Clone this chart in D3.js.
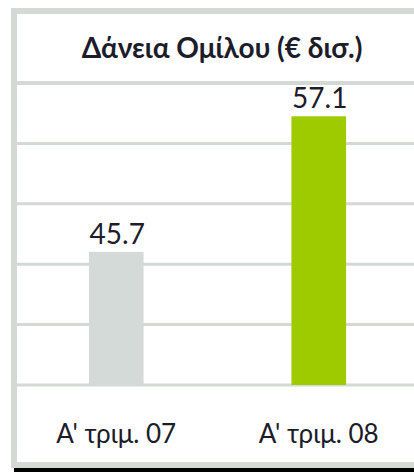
<!DOCTYPE html>
<html lang="el">
<head>
  <meta charset="UTF-8">
  <title>Δάνεια Ομίλου</title>
  <script src="https://d3js.org/d3.v7.min.js"></script>
  <style>
    body { margin: 0; background: white; }
    text { font-family: Lato, 'Open Sans', sans-serif; fill: #1c1c2a; }
  </style>
</head>
<body>
  <svg width="414" height="472"></svg>

  <script>
    // Data
    const categories = ["Α' τριμ. 07", "Α' τριμ. 08"];
    const values = [45.7, 57.1];
    const barColors = ["#d4dad7", "#9dcb00"];
    const title = "Δάνεια Ομίλου (€ δισ.)";

    const svg = d3.select("svg");
    const lineColor = "#d4d9d6";

    // plot box
    const plotLeft = 15, plotRight = 420, plotTop = 83, plotBottom = 385;

    const x = d3.scaleBand()
      .domain(categories)
      .range([plotLeft, plotRight])
      .padding(0);
    const barW = x.bandwidth() * 0.27;

    // axis does not start at zero in the original
    const y = d3.scaleLinear()
      .domain([34.5, 59.9])
      .range([plotBottom, plotTop]);

    const gridVals = d3.range(6).map(i => y.domain()[0] + i * (y.domain()[1] - y.domain()[0]) / 5);

    // gridlines
    svg.append("g")
      .selectAll("line")
      .data(gridVals)
      .enter().append("line")
      .attr("x1", 17)
      .attr("x2", 414)
      .attr("y1", d => y(d))
      .attr("y2", d => y(d))
      .attr("stroke", lineColor)
      .attr("stroke-width", (d, i) => i === 5 ? 4 : 3);

    // bars
    svg.selectAll(".bar")
      .data(values)
      .enter().append("rect")
      .attr("class", "bar")
      .attr("x", (d, i) => x(categories[i]) + (x.bandwidth() - barW) / 2)
      .attr("y", d => y(d))
      .attr("width", barW)
      .attr("height", d => y(y.domain()[0]) - y(d))
      .attr("fill", (d, i) => barColors[i]);

    // value labels
    svg.selectAll(".val")
      .data(values)
      .enter().append("text")
      .attr("class", "val")
      .attr("x", (d, i) => x(categories[i]) + x.bandwidth() / 2 + 1)
      .attr("y", d => y(d) - 8)
      .attr("text-anchor", "middle")
      .style("font-size", "28px")
      .text(d => d.toFixed(1));

    // category labels
    svg.selectAll(".cat")
      .data(categories)
      .enter().append("text")
      .attr("class", "cat")
      .attr("x", d => x(d) + x.bandwidth() / 2)
      .attr("y", 443)
      .attr("text-anchor", "middle")
      .style("font-size", "26px")
      .text(d => d);

    // title
    svg.append("text")
      .attr("x", 222)
      .attr("y", 58)
      .attr("text-anchor", "middle")
      .style("font-size", "28px")
      .style("font-weight", "bold")
      .text(title);

    // frame
    svg.append("rect").attr("x", 11).attr("y", 8).attr("width", 6).attr("height", 460).attr("fill", lineColor);
    svg.append("rect").attr("x", 11).attr("y", 8).attr("width", 403).attr("height", 6).attr("fill", lineColor);
    svg.append("rect").attr("x", 11).attr("y", 462).attr("width", 403).attr("height", 6).attr("fill", lineColor);
    svg.append("rect").attr("x", 14).attr("y", 468).attr("width", 400).attr("height", 4).attr("fill", "#000");
  </script>
</body>
</html>
